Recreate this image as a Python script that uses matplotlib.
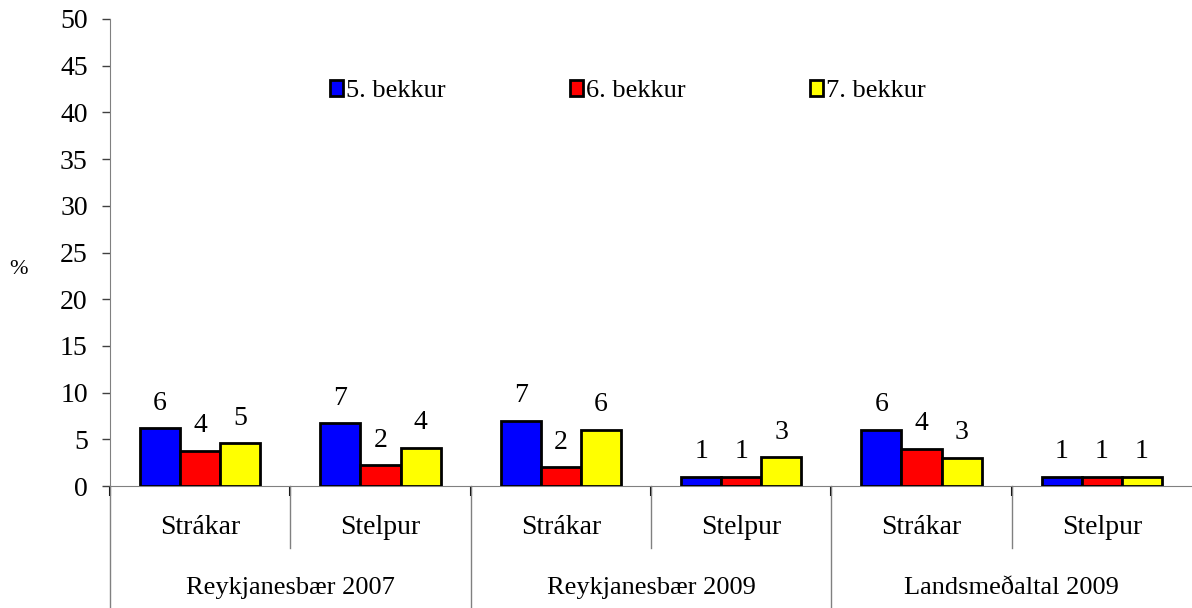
import matplotlib
matplotlib.use('Agg')
import matplotlib.pyplot as plt
import numpy as np

# 数据
groups = ['Reykjanesbær 2007', 'Reykjanesbær 2009', 'Landsmeðaltal 2009']
subgroups = ['Strákar', 'Stelpur']
series_names = ['5. bekkur', '6. bekkur', '7. bekkur']
bekkur5 = [6.2, 6.7, 7.0, 1.0, 6.0, 1.0]
bekkur6 = [3.8, 2.2, 2.0, 1.0, 4.0, 1.0]
bekkur7 = [4.6, 4.1, 6.0, 3.1, 3.0, 1.0]
colors = ['#0000FF', '#FF0000', '#FFFF00']
yticks = list(range(0, 51, 5))

plt.rcParams['font.family'] = ['Liberation Serif', 'DejaVu Serif']
FS = 20

fig = plt.figure(figsize=(11.92, 6.08), dpi=100)
ax = fig.add_axes([110 / 1192, 122 / 608, 1082 / 1192, 467 / 608])

n_cat = len(bekkur5)
x = np.arange(n_cat) + 0.5
w = 0.222
for k, vals in enumerate([bekkur5, bekkur6, bekkur7]):
    ax.bar(x + (k - 1) * w, vals, width=w, color=colors[k], edgecolor='black',
           linewidth=2.0, label=series_names[k], zorder=3)
    # 数值标签（取整）
    for xi, v in zip(x + (k - 1) * w, vals):
        ax.annotate(f'{round(v):d}', (xi, v), xytext=(0, 18), textcoords='offset points',
                    ha='center', va='center', fontsize=FS)

ax.set_xlim(0, n_cat)
ax.set_ylim(0, 50)
ax.set_yticks(yticks)
ax.tick_params(axis='y', labelsize=FS, length=6, width=1, color='#404040', pad=10)
ax.set_xticks(range(n_cat))
ax.set_xticklabels([])
ax.tick_params(axis='x', length=7, width=1.5, color='black', direction='out')

for s in ['top', 'right']:
    ax.spines[s].set_visible(False)
ax.spines['left'].set_color('#808080')
ax.spines['bottom'].set_color('#808080')

# 多级分类轴
trans = ax.get_xaxis_transform()
for i in range(n_cat):
    depth = -0.27 if i % 2 == 0 else -0.1328
    ax.plot([i, i], [0, depth], transform=trans, color='#808080', lw=1, clip_on=False)
for i in range(n_cat):
    ax.text(i + 0.5, -0.088, subgroups[i % 2], transform=trans, ha='center', va='center', fontsize=FS)
for g, name in enumerate(groups):
    ax.text(2 * g + 1, -0.218, name, transform=trans, ha='center', va='center', fontsize=FS - 1)

fig.text(18 / 1192, 1 - 270 / 608, '%', ha='center', va='center', fontsize=FS - 4)

ax.legend(loc='center left', bbox_to_anchor=(0.2033, 0.845), ncol=3, frameon=False,
          fontsize=FS - 1, handlelength=0.5, handleheight=0.5, handletextpad=0.12,
          columnspacing=4.7, borderpad=0, borderaxespad=0)

plt.savefig('out.png', dpi=100)
